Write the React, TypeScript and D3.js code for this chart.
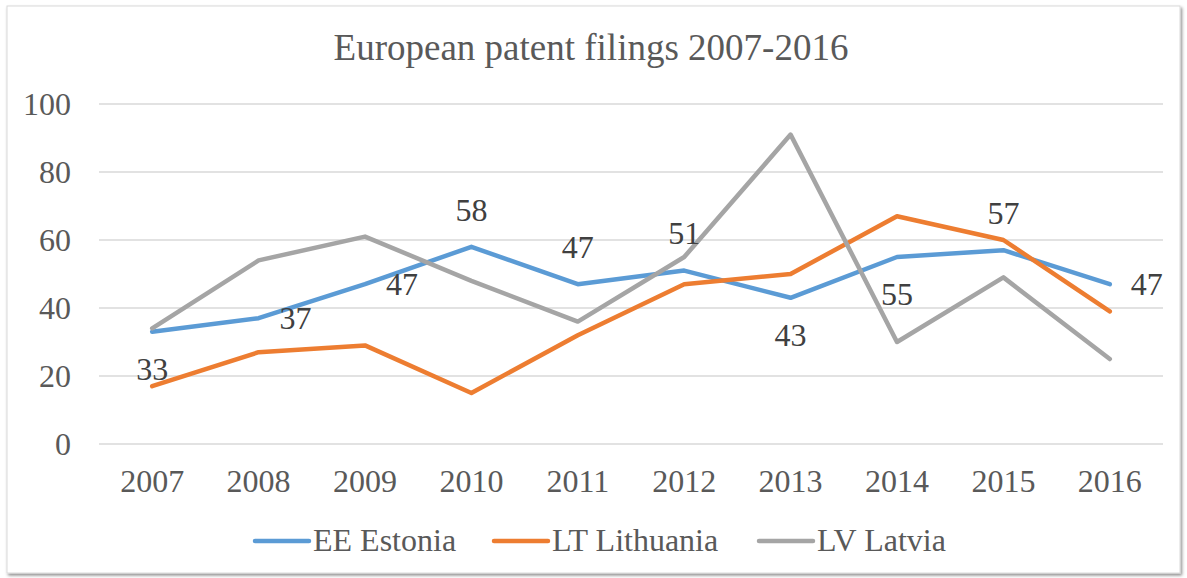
import React from "react";
import * as d3 from "d3";

const years = ["2007", "2008", "2009", "2010", "2011", "2012", "2013", "2014", "2015", "2016"];
const estonia = [33, 37, 47, 58, 47, 51, 43, 55, 57, 47];
const lithuania = [17, 27, 29, 15, 32, 47, 50, 67, 60, 39];
const latvia = [34, 54, 61, 48, 36, 55, 91, 30, 49, 25];
const yTicks = [0, 20, 40, 60, 80, 100];
const seriesNames = ["EE Estonia", "LT Lithuania", "LV Latvia"];
const seriesColors = ["#5B9BD5", "#ED7D31", "#A5A5A5"];
// Excel-style label placement for the Estonia data labels
const labelPlacement = ["below", "right", "right", "above", "above", "above", "below", "below", "above", "right"];

const W = 1187;
const H = 578;
const plot = { left: 99, right: 1163, top: 104, bottom: 444 };
const FONT = "'Liberation Serif', 'Times New Roman', 'DejaVu Serif', serif";

export default function App() {
  const x = d3.scaleBand<string>().domain(years).range([plot.left, plot.right]);
  const y = d3.scaleLinear().domain([0, 100]).range([plot.bottom, plot.top]);
  const cx = (yr: string) => (x(yr) as number) + x.bandwidth() / 2;
  const line = d3
    .line<number>()
    .x((_, i) => cx(years[i]))
    .y((d) => y(d));
  const series = [estonia, lithuania, latvia];
  const off = 37;
  const labelPos = (p: string) => {
    if (p === "below") return { dx: 0, dy: off };
    if (p === "above") return { dx: 0, dy: -off };
    if (p === "right") return { dx: off, dy: 0 };
    return { dx: -off, dy: 0 };
  };
  const legendItems = [
    { lineX: 255, textX: 313 },
    { lineX: 494, textX: 552 },
    { lineX: 759, textX: 817 },
  ];
  const ts = { fontFamily: FONT };

  return (
    <svg
      width={W}
      height={H}
      style={{ position: "absolute", left: 0, top: 0, background: "#fff", fontFamily: FONT }}
    >
      <defs>
        <filter id="sh" x="-5%" y="-5%" width="110%" height="110%">
          <feDropShadow dx="1.5" dy="2" stdDeviation="1.8" floodColor="#000" floodOpacity="0.45" />
        </filter>
      </defs>
      <rect x={7} y={6} width={1173} height={567} fill="#fff" stroke="#d9d9d9" strokeWidth={1} filter="url(#sh)" />
      <text x={591} y={60} textAnchor="middle" fontSize={37} fill="#595959" style={ts}>
        European patent filings 2007-2016
      </text>
      {yTicks.map((t) => (
        <g key={t}>
          <line x1={plot.left} x2={plot.right} y1={y(t)} y2={y(t)} stroke="#d9d9d9" strokeWidth={1.5} />
          <text x={71} y={y(t)} dy="0.34em" textAnchor="end" fontSize={32} fill="#595959" style={ts}>
            {t}
          </text>
        </g>
      ))}
      {years.map((yr) => (
        <text key={yr} x={cx(yr)} y={492} textAnchor="middle" fontSize={32} fill="#595959" style={ts}>
          {yr}
        </text>
      ))}
      {series.map((s, i) => (
        <path
          key={i}
          d={line(s) as string}
          fill="none"
          stroke={seriesColors[i]}
          strokeWidth={4.5}
          strokeLinejoin="round"
          strokeLinecap="round"
        />
      ))}
      {estonia.map((v, i) => {
        const p = labelPos(labelPlacement[i]);
        return (
          <text
            key={i}
            x={cx(years[i]) + p.dx}
            y={y(v) + p.dy}
            dy="0.34em"
            textAnchor="middle"
            fontSize={32}
            fill="#404040"
            style={ts}
          >
            {v}
          </text>
        );
      })}
      {seriesNames.map((n, i) => (
        <g key={n}>
          <line
            x1={legendItems[i].lineX}
            x2={legendItems[i].lineX + 54}
            y1={541}
            y2={541}
            stroke={seriesColors[i]}
            strokeWidth={4.5}
            strokeLinecap="round"
          />
          <text x={legendItems[i].textX} y={551} fontSize={32} fill="#595959" style={ts}>
            {n}
          </text>
        </g>
      ))}
    </svg>
  );
}
